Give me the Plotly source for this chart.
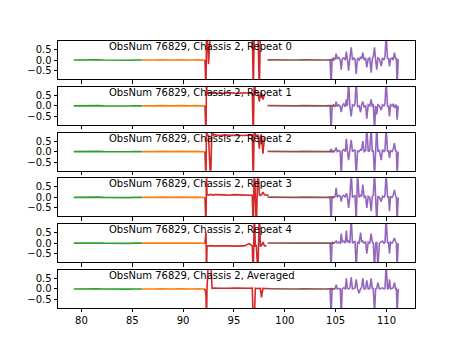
import plotly.graph_objects as go

# ---------------- data ----------------
panel_titles = [
    "ObsNum 76829, Chassis 2, Repeat 0",
    "ObsNum 76829, Chassis 2, Repeat 1",
    "ObsNum 76829, Chassis 2, Repeat 2",
    "ObsNum 76829, Chassis 2, Repeat 3",
    "ObsNum 76829, Chassis 2, Repeat 4",
    "ObsNum 76829, Chassis 2, Averaged",
]

green_x = [79.25, 79.8, 80.4, 81.0, 81.6, 82.2, 82.8, 83.4, 84.0, 84.6, 85.2, 85.7, 86.0]
green_y = [0.0, 0.01, -0.01, 0.0, 0.01, 0.0, -0.01, 0.01, 0.0, -0.01, 0.0, 0.01, 0.0]

orange_x = [86.0, 86.6, 87.2, 87.8, 88.4, 89.0, 89.6, 90.2, 90.8, 91.4, 91.9, 92.15]
orange_y = [0.0, -0.01, 0.0, 0.01, -0.01, 0.0, 0.01, -0.01, 0.0, 0.01, 0.0, -0.01]

brown_x = [98.3, 99.0, 99.7, 100.4, 101.1, 101.8, 102.5, 103.2, 103.9, 104.5, 104.9]
brown_y = [0.01, 0.0, 0.01, -0.01, 0.0, 0.01, 0.0, -0.01, 0.0, 0.01, 0.0]

red_x = [92.15, 92.25, 92.3, 92.35, 92.5, 92.7, 92.85, 92.95, 93.1, 93.5, 94.0, 94.5,
         95.0, 95.5, 96.0, 96.5, 96.8, 96.9, 97.0, 97.1, 97.2, 97.35, 97.5, 97.6,
         97.7, 97.85, 98.0, 98.2, 98.4]
red_y = [
    # Repeat 0
    [0.0, -1.5, 1.5, 1.5, -0.2, 1.5, 1.5, 1.5, 1.5, 1.5, 1.5, 1.5,
     1.5, 1.5, 1.5, 1.5, 1.5, -1.5, 1.5, 1.5, 1.5, 1.5, -1.5, 1.5,
     1.5, 1.5, None, None, None],
    # Repeat 1
    [0.0, -1.5, 1.5, 0.6, 0.62, 0.58, 0.63, 0.6, 0.62, 0.58, 0.6, 0.63,
     0.6, 0.59, 0.62, 0.6, 0.58, -1.5, 1.5, 0.6, 0.62, 0.6, 0.2, 0.6,
     0.58, 0.3, 0.55, None, None],
    # Repeat 2
    [0.0, -1.5, 1.5, 0.78, 0.76, -1.5, 1.5, 0.78, 0.8, 0.76, 0.78, 0.77,
     0.79, 0.78, 0.76, 0.78, 0.77, -1.5, 1.5, 0.78, 0.76, 0.78, 0.14, 0.75,
     0.78, -0.1, 0.7, None, None],
    # Repeat 3
    [0.0, -1.5, 1.5, 0.12, 0.1, 0.14, 0.12, 0.1, 0.13, 0.11, 0.12, 0.1,
     0.13, 0.12, 0.11, 0.12, 0.1, -1.5, 1.5, 0.12, -1.5, 1.5, 0.12, 0.1,
     0.12, 0.25, 0.12, 0.1, 0.12],
    # Repeat 4
    [0.0, 0.5, -1.5, -0.13, -0.12, -0.14, -0.13, -0.12, -0.14, -0.13, -0.12, -0.13,
     -0.14, -0.12, -0.13, -0.02, -0.13, -1.5, 1.5, -0.13, -0.12, -1.5, 1.5, -0.13,
     -0.12, 0.05, -0.13, -0.12, None],
    # Averaged
    [0.0, -0.3, -1.5, 0.0, 1.5, 1.5, 0.03, 0.02, 0.04, 0.03, 0.02, 0.03,
     0.04, 0.03, 0.02, 0.03, 0.04, -1.5, -1.5, 0.03, 0.02, 0.03, 0.04, 0.03,
     -0.4, 0.03, 0.02, 0.03, 0.02],
]

purple_x = [104.45, 104.55, 104.65, 104.8, 104.95, 105.05, 105.15, 105.3, 105.45, 105.55,
            105.65, 105.8, 105.95, 106.05, 106.15, 106.27, 106.4, 106.53, 106.65, 106.8,
            106.9, 107.02, 107.15, 107.3, 107.45, 107.55, 107.67, 107.8, 107.95, 108.06,
            108.2, 108.35, 108.49, 108.6, 108.7, 108.82, 108.93, 109.04, 109.15, 109.3,
            109.48, 109.6, 109.75, 109.85, 109.96, 110.1, 110.2, 110.29, 110.4, 110.55,
            110.65, 110.78, 110.9, 110.97, 111.04, 111.15]
purple_y = [
    # Repeat 0
    [0.02, -1.2, 0.05, 0.1, 0.05, 0.3, 0.05, 0.12, 0.0, -0.45,
     0.05, 0.1, 0.0, 0.4, 0.05, -0.5, 0.1, 0.6, 0.0, 0.1,
     0.05, -0.65, 0.1, 0.0, 0.15, 0.05, 0.35, 0.0, 0.1, -0.35,
     0.05, 0.1, -0.6, 0.05, 0.15, 0.6, 0.0, -0.45, 0.1, 0.05,
     -0.3, 0.1, 0.0, 0.15, 1.2, 0.05, 0.1, -0.3, 0.05, 0.1,
     0.0, 0.35, 0.05, 0.1, -1.2, 0.05],
    # Repeat 1
    [0.0, -1.2, -0.02, 0.05, -0.05, 0.2, -0.03, 0.05, -0.02, -0.3,
     0.0, 0.1, -0.05, 0.3, 0.0, 1.2, -0.05, -0.5, 0.05, 0.0,
     0.1, 1.2, -0.05, 0.0, -0.3, 0.05, 0.2, -0.05, 0.0, -0.6,
     0.05, 0.0, 0.3, -0.05, 0.1, -1.2, 0.0, -0.4, 0.05, 0.0,
     -0.2, 0.05, 0.0, 0.1, 1.2, -0.05, 0.0, -0.5, 0.05, 0.0,
     0.1, -0.1, 0.05, 0.0, -0.65, 0.0],
    # Repeat 2
    [0.05, 0.1, 0.05, 0.0, 0.05, 0.2, 0.0, 0.05, 0.0, -1.2,
     0.05, 0.1, 0.0, 0.6, 0.05, -0.4, 0.1, 0.55, 0.0, 0.05,
     0.1, -1.2, 0.05, 0.0, 0.1, 0.05, 0.5, 0.0, 0.05, 1.2,
     0.0, 0.05, 1.2, 0.0, 0.05, -1.2, 0.05, 1.2, 0.0, 0.05,
     -0.4, 0.1, 0.0, 0.05, 1.2, 0.0, 0.05, -0.3, 0.05, 0.0,
     0.1, 0.4, 0.0, 0.05, -1.2, 0.0],
    # Repeat 3
    [0.0, -1.2, 0.05, 0.0, 0.05, 0.45, 0.0, 0.1, 0.05, -0.2,
     0.05, 0.1, 0.0, 0.2, 0.05, -0.5, 0.05, 1.2, 0.0, 0.05,
     0.1, -1.2, 1.2, 0.0, 0.1, 0.05, 0.6, 0.0, 0.05, -0.5,
     0.05, 0.0, -0.65, 0.05, 0.1, 1.2, 0.0, -1.2, 0.05, 0.0,
     -0.2, 0.05, 0.0, 0.1, 1.2, 0.0, 0.05, -0.65, 0.05, 0.0,
     0.1, 0.35, 0.05, 0.0, -1.2, 0.0],
    # Repeat 4
    [0.0, -1.2, 0.05, 0.0, 0.05, 0.1, 0.0, 0.05, 0.0, 0.45,
     0.05, 0.1, 0.0, 0.6, 0.05, 0.1, 0.0, 1.2, 0.0, 0.05,
     0.1, -1.2, 0.05, 0.0, 0.5, 0.05, 0.1, 0.0, 0.05, -0.5,
     0.05, 0.0, 0.45, 0.05, 0.0, -1.2, 0.0, 0.05, -1.2, 0.0,
     0.05, 0.1, 0.0, 0.05, 1.2, 0.0, 0.05, -0.5, 0.05, 0.0,
     0.1, 0.25, 0.05, 0.0, -1.2, 0.0],
    # Averaged
    [0.0, -1.2, 0.02, 0.0, 0.02, 0.2, 0.0, 0.02, 0.0, -1.2,
     0.02, 0.05, 0.0, 0.5, 0.02, 0.0, 0.05, 0.55, 0.0, 0.02,
     0.05, 0.45, 0.0, -0.2, 0.02, 0.05, 0.5, 0.0, 0.02, 0.4,
     0.0, 0.02, 0.5, 0.0, 0.05, -1.2, 0.0, 0.02, 0.3, 0.0,
     0.02, 0.05, 0.0, 0.02, 1.2, 0.0, 0.02, 0.45, 0.0, 0.02,
     0.05, 0.3, 0.0, 0.02, -1.2, 0.0],
]

y_tickvals = [-0.5, 0.0, 0.5]
y_ticktext = ["\u22120.5", "0.0", "0.5"]
x_tickvals = [80, 85, 90, 95, 100, 105, 110]
x_ticktext = ["80", "85", "90", "95", "100", "105", "110"]

# ---------------- figure ----------------
W, H = 461, 346
ml, mr, mt, mb = 58, 46, 41, 38
plot_h = H - mt - mb
n = 6
ph = plot_h / (n + 0.2 * (n - 1))
gap = 0.2 * ph

C_GREEN, C_ORANGE, C_RED, C_BROWN, C_PURPLE = "#2ca02c", "#ff7f0e", "#d62728", "#8c564b", "#9467bd"
FONT = "DejaVu Sans"

fig = go.Figure()
layout = dict(
    width=W, height=H,
    margin=dict(l=ml, r=mr, t=mt, b=mb, pad=0),
    paper_bgcolor="white", plot_bgcolor="white",
    showlegend=False,
    font=dict(family=FONT, size=10, color="black"),
)
annotations = []
for i in range(n):
    k = "" if i == 0 else str(i + 1)
    top_px = i * (ph + gap)
    d1 = 1 - top_px / plot_h
    d0 = 1 - (top_px + ph) / plot_h
    xa, ya = "x" + k, "y" + k
    series = [
        (green_x, green_y, C_GREEN),
        (orange_x, orange_y, C_ORANGE),
        (red_x, red_y[i], C_RED),
        (purple_x, purple_y[i], C_PURPLE),
        (brown_x, brown_y, C_BROWN),
    ]
    for sx, sy, col in series:
        fig.add_trace(go.Scatter(x=sx, y=sy, mode="lines", xaxis=xa, yaxis=ya,
                                 line=dict(color=col, width=1.6), hoverinfo="skip"))
    layout["xaxis" + k] = dict(
        domain=[0, 1], anchor=ya, range=[77.7, 112.8],
        tickvals=x_tickvals, ticktext=x_ticktext, showticklabels=(i == n - 1),
        ticks="outside", ticklen=3.5, tickwidth=0.8, tickcolor="black",
        showline=True, linecolor="black", linewidth=0.8, mirror=True,
        showgrid=False, zeroline=False,
        tickfont=dict(family=FONT, size=10, color="black"),
    )
    if i > 0:
        layout["xaxis" + k]["matches"] = "x"
    layout["yaxis" + k] = dict(
        domain=[d0, d1], anchor=xa, range=[-0.9, 0.9],
        tickvals=y_tickvals, ticktext=y_ticktext,
        ticks="outside", ticklen=3.5, tickwidth=0.8, tickcolor="black",
        showline=True, linecolor="black", linewidth=0.8, mirror=True,
        showgrid=False, zeroline=False,
        tickfont=dict(family=FONT, size=10, color="black"),
    )
    annotations.append(dict(
        text=panel_titles[i], x=82.55, y=1.0, xref=xa, yref=ya + " domain",
        xanchor="left", yanchor="top", yshift=2, showarrow=False,
        font=dict(family=FONT, size=10, color="black"),
    ))
layout["annotations"] = annotations
fig.update_layout(**layout)
fig.write_html("out.html")
